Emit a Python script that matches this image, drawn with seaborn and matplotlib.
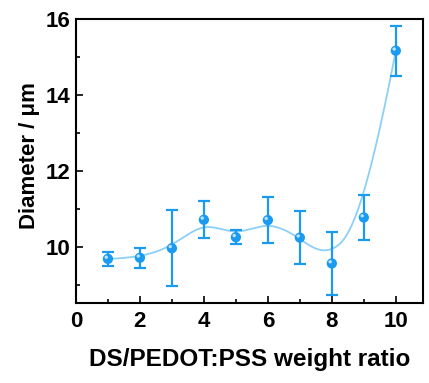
import numpy as np
import pandas as pd
import matplotlib
matplotlib.use("Agg")
import matplotlib.pyplot as plt
import matplotlib.transforms as mtransforms
from matplotlib.ticker import MultipleLocator
import seaborn as sns

ratio = [1, 2, 3, 4, 5, 6, 7, 8, 9, 10]
diameter = [9.69, 9.72, 9.97, 10.72, 10.26, 10.71, 10.25, 9.57, 10.78, 15.17]
err = [0.18, 0.26, 1.0, 0.49, 0.19, 0.61, 0.70, 0.83, 0.59, 0.66]

sns.set_style("ticks")
plt.rcParams['font.family'] = ['Liberation Sans', 'DejaVu Sans']
plt.rcParams['font.weight'] = 'bold'
for k in ['text.color', 'axes.labelcolor', 'xtick.color', 'ytick.color', 'axes.edgecolor']:
    plt.rcParams[k] = 'black'

def bspline(px, py, deg=3, n=400):
    m = len(px)
    inner = np.arange(1, m - deg)
    knots = np.concatenate([np.zeros(deg + 1), inner, np.full(deg + 1, m - deg)]).astype(float)
    t = np.linspace(0, m - deg, n)
    t[-1] -= 1e-9
    def basis(i, k, t):
        if k == 0:
            return ((knots[i] <= t) & (t < knots[i + 1])).astype(float)
        a = 0.0
        d1 = knots[i + k] - knots[i]
        if d1 > 0:
            a = (t - knots[i]) / d1 * basis(i, k - 1, t)
        b = 0.0
        d2 = knots[i + k + 1] - knots[i + 1]
        if d2 > 0:
            b = (knots[i + k + 1] - t) / d2 * basis(i + 1, k - 1, t)
        return a + b
    B = np.array([basis(i, deg, t) for i in range(m)])
    return B.T @ np.asarray(px, float), B.T @ np.asarray(py, float)

cx, cy = bspline(ratio, diameter)
curve = pd.DataFrame({"x": cx, "y": cy})
pts = pd.DataFrame({"x": ratio, "y": diameter})

fig = plt.figure(figsize=(4.29, 3.83), dpi=100)
ax = fig.add_axes([0.177, 0.209, 0.809, 0.741])

blue = '#1A9BEF'
sns.lineplot(data=curve, x="x", y="y", ax=ax, color='#8DD0F7', lw=1.3, sort=False, estimator=None)
ax.errorbar(ratio, diameter, yerr=err, fmt='none', ecolor=blue, elinewidth=1.6,
            capsize=4.5, capthick=1.6, zorder=3)
sns.scatterplot(data=pts, x="x", y="y", ax=ax, color=blue, s=55, edgecolor='none', zorder=4)
off = mtransforms.offset_copy(ax.transData, fig=fig, x=-1.2, y=1.2, units='points')
ax.scatter(ratio, diameter, s=6, color='#B8E4FF', edgecolor='none', zorder=5, transform=off)

ax.set_xlim(0, 10.85)
ax.set_ylim(8.53, 16)
ax.xaxis.set_major_locator(MultipleLocator(2))
ax.xaxis.set_minor_locator(MultipleLocator(1))
ax.yaxis.set_major_locator(MultipleLocator(2))
ax.yaxis.set_minor_locator(MultipleLocator(1))
ax.tick_params(which='both', direction='in', top=False, right=False, width=1.2, color='black')
ax.tick_params(axis='x', which='major', length=5, labelsize=16, pad=6)
ax.tick_params(axis='y', which='major', length=5, labelsize=16, pad=4)
ax.tick_params(which='minor', length=3)
for s in ax.spines.values():
    s.set_linewidth(1.5)
    s.set_visible(True)
    s.set_color('black')
ax.set_xlabel("DS/PEDOT:PSS weight ratio", fontsize=17.5, fontweight='bold', labelpad=11, color='black')
ax.set_ylabel("Diameter / μm", fontsize=16, fontweight='bold', labelpad=4, color='black')
ax.yaxis.label.set_y(0.52)
for lab in ax.get_xticklabels() + ax.get_yticklabels():
    lab.set_fontweight('bold')
    lab.set_color('black')

fig.savefig("out.png", dpi=100)
